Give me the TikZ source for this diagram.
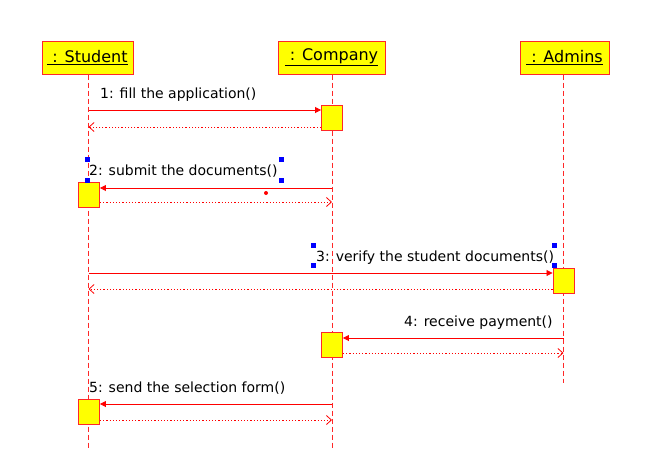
\documentclass[tikz,border=0pt]{standalone}
\usepackage{fontspec}
\setmainfont{DejaVu Sans}
\usetikzlibrary{arrows.meta}
\definecolor{umlred}{RGB}{255,40,40}
\definecolor{umlyellow}{RGB}{255,255,0}
\tikzset{
  header/.style={draw=umlred, line width=1pt, fill=umlyellow, minimum height=33pt, inner sep=0pt, font=\fontsize{16}{18}\selectfont},
  lifeline/.style={draw=umlred, line width=0.9pt, dash pattern=on 5pt off 3pt},
  actbox/.style={draw=umlred, line width=0.9pt, fill=umlyellow, minimum width=21pt, minimum height=25pt, inner sep=0pt},
  msg/.style={draw=red, line width=0.8pt, -{Triangle[length=6pt,width=6pt]}},
  ret/.style={draw=red, line width=0.8pt, dash pattern=on 1.2pt off 2pt, -{Straight Barb[length=5pt,width=9pt]}},
  msglabel/.style={anchor=base west, inner sep=0pt, font=\fontsize{14}{16}\selectfont},
  handle/.style={fill=blue, draw=none, minimum size=5pt, inner sep=0pt},
}
\begin{document}
\begin{tikzpicture}[x=1pt,y=-1pt]
\useasboundingbox (0,0) rectangle (660,472);
% headers
\node[header, minimum width=91pt] (student) at (87.5,57.5) {\underline{~: Student}};
\node[header, minimum width=107pt] (company) at (331.5,57.5) {\underline{~: Company}};
\node[header, minimum width=89pt] (admins) at (564.5,57.5) {\underline{~: Admins}};
% lifeline ends
\coordinate (sEnd) at (88.5,450);
\coordinate (cEnd) at (332,450);
\coordinate (aEnd) at (563.5,383);
\draw[lifeline] (student.south -| sEnd) -- (sEnd);
\draw[lifeline] (company.south -| cEnd) -- (cEnd);
\draw[lifeline] (admins.south -| aEnd) -- (aEnd);
% activation boxes
\node[actbox] (act1) at (332,117.5) {};
\node[actbox] (act2) at (89,194.5) {};
\node[actbox] (act3) at (563.5,280.5) {};
\node[actbox] (act4) at (332,345) {};
\node[actbox] (act5) at (89,411.5) {};
% message anchor points on lifelines
\coordinate (m1s) at (88.5,110);
\coordinate (m1r) at (88.5,127);
\coordinate (m2s) at (332,188);
\coordinate (m2r) at (332,202);
\coordinate (m3s) at (88.5,273);
\coordinate (m3r) at (88.5,289);
\coordinate (m4s) at (563.5,338);
\coordinate (m4r) at (563.5,353);
\coordinate (m5s) at (332,404);
\coordinate (m5r) at (332,420);
% messages
\draw[msg] (m1s) -- (m1s -| act1.west);
\draw[ret] (m1r -| act1.west) -- (m1r);
\draw[msg] (m2s) -- (m2s -| act2.east);
\draw[ret] (m2r -| act2.east) -- (m2r);
\draw[msg] (m3s) -- (m3s -| act3.west);
\draw[ret] (m3r -| act3.west) -- (m3r);
\draw[msg] (m4s) -- (m4s -| act4.east);
\draw[ret] (m4r -| act4.east) -- (m4r);
\draw[msg] (m5s) -- (m5s -| act5.east);
\draw[ret] (m5r -| act5.east) -- (m5r);
% labels
\node[msglabel] (l1) at (100,98) {1: fill the application()};
\node[msglabel] (l2) at (89,175) {2: submit the documents()};
\node[msglabel] (l3) at (316,261) {3: verify the student documents()};
\node[msglabel] (l4) at (404,326) {4: receive payment()};
\node[msglabel] (l5) at (89,392) {5: send the selection form()};
% selection handles
\node[handle] (h1) at (87,159) {};
\node[handle] (h2) at (87,180) {};
\node[handle] (h3) at (281,159) {};
\node[handle] (h4) at (281,180) {};
\node[handle] (h5) at (313,245) {};
\node[handle] (h6) at (313,265) {};
\node[handle] (h7) at (554,245) {};
\node[handle] (h8) at (554,265) {};
\fill[red] (266,193) circle (2pt);
\end{tikzpicture}
\end{document}
